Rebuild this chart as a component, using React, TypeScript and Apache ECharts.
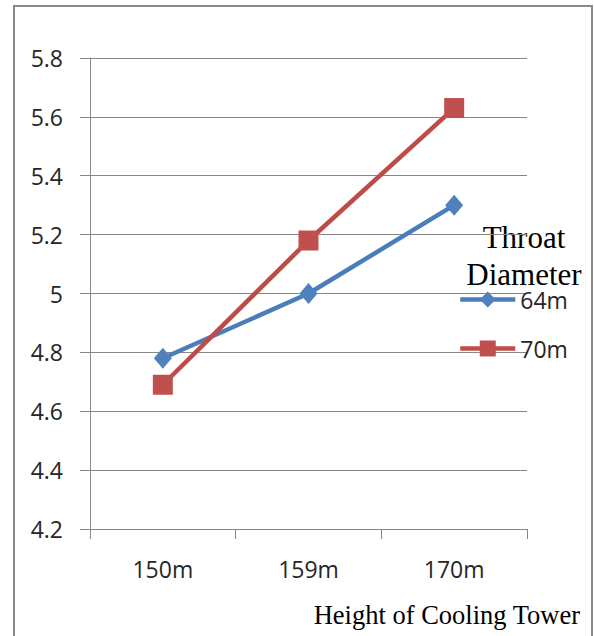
import React, { useEffect, useRef } from "react";
import * as echarts from "echarts";

const categories = ["150m", "159m", "170m"];
const series64 = [4.78, 5.0, 5.3];
const series70 = [4.69, 5.18, 5.63];
const seriesNames = ["64m", "70m"];
const yMin = 4.2;
const yMax = 5.8;
const yInterval = 0.2;
const legendTitle = "Throat\nDiameter";
const xAxisTitle = "Height of Cooling Tower";

export default function App() {
  const ref = useRef<HTMLDivElement>(null);
  useEffect(() => {
    if (!ref.current) return;
    const chart = echarts.init(ref.current, null, { renderer: "svg" });
    const sans = "Open Sans";
    const serif = "Liberation Serif";
    chart.setOption({
      animation: false,
      backgroundColor: "#ffffff",
      grid: { left: 90, right: 67, top: 58, bottom: 107, containLabel: false },
      xAxis: {
        type: "category",
        data: categories,
        boundaryGap: true,
        axisLine: { show: true, lineStyle: { color: "#878787", width: 1 } },
        axisTick: { show: true, length: 10, lineStyle: { color: "#878787" } },
        axisLabel: {
          margin: 28,
          fontFamily: sans,
          fontSize: 23,
          color: "#262626",
        },
        splitLine: { show: false },
      },
      yAxis: {
        type: "value",
        min: yMin,
        max: yMax,
        interval: yInterval,
        axisLine: { show: true, lineStyle: { color: "#878787", width: 1 } },
        axisTick: { show: true, length: 10, lineStyle: { color: "#878787" } },
        axisLabel: {
          margin: 27,
          fontFamily: sans,
          fontSize: 23,
          color: "#262626",
          formatter: (v: number) => String(Math.round(v * 10) / 10),
        },
        splitLine: { show: true, lineStyle: { color: "#878787", width: 1 } },
      },
      legend: {
        orient: "vertical",
        left: 453,
        top: 283,
        padding: 5,
        itemWidth: 55,
        itemHeight: 20,
        itemGap: 26,
        lineStyle: { width: 4.5 },
        textStyle: { fontFamily: sans, fontSize: 23, color: "#262626", lineHeight: 14 },
        data: seriesNames,
      },
      series: [
        {
          name: seriesNames[0],
          type: "line",
          data: series64,
          symbol: "diamond",
          symbolSize: [18, 21],
          lineStyle: { color: "#4A7EBB", width: 4.5 },
          itemStyle: { color: "#4F81BD" },
          z: 3,
        },
        {
          name: seriesNames[1],
          type: "line",
          data: series70,
          symbol: "rect",
          symbolSize: 20,
          lineStyle: { color: "#BE4B48", width: 4.5 },
          itemStyle: { color: "#C0504D" },
          z: 4,
        },
      ],
      graphic: [
        {
          type: "rect",
          shape: { x: 14, y: 6, width: 578, height: 700 },
          style: { fill: "none", stroke: "#8a8a8a", lineWidth: 2 },
          silent: true,
        },
        {
          type: "text",
          x: 524,
          y: 219,
          style: {
            text: legendTitle,
            font: `31px "${serif}"`,
            fill: "#000000",
            textAlign: "center",
            lineHeight: 37,
          },
        },
        {
          type: "text",
          x: 580,
          y: 615,
          style: {
            text: xAxisTitle,
            font: `26.5px "${serif}"`,
            fill: "#000000",
            textAlign: "right",
            textVerticalAlign: "middle",
          },
        },
      ],
    });
    return () => chart.dispose();
  }, []);
  return (
    <div style={{ position: "fixed", left: 0, top: 0, width: 594, height: 636, background: "#fff" }}>
      <div ref={ref} style={{ width: 594, height: 636 }} />
    </div>
  );
}
